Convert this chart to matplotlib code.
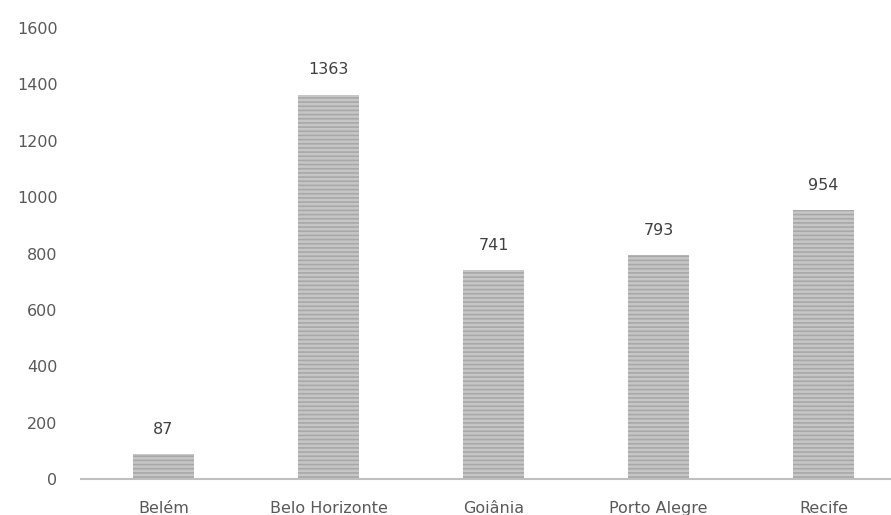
import matplotlib.pyplot as plt
import numpy as np

cities = ['Belém', 'Belo Horizonte', 'Goiânia', 'Porto Alegre', 'Recife']
counts = [87, 1363, 741, 793, 954]
yticks = [0, 200, 400, 600, 800, 1000, 1200, 1400, 1600]

plt.rcParams['font.family'] = ['DejaVu Sans']
plt.rcParams['hatch.linewidth'] = 1.2
plt.rcParams['hatch.color'] = '#a8a8a8'

fig = plt.figure(figsize=(8.91, 5.15), dpi=100)
# eixo recortado à direita como na imagem original
ax = fig.add_axes([81 / 891, 36 / 515, 825 / 891, 451 / 515])

x = np.arange(len(cities))
ax.bar(x, counts, width=0.375, color='#c6c6c6', edgecolor='#a8a8a8',
       linewidth=0, hatch='----', zorder=2)

for xi, v in zip(x, counts):
    ax.annotate(str(v), (xi, v), xytext=(0, 12.5), textcoords='offset points',
                ha='center', va='bottom', fontsize=11.5, color='#404040')

ax.set_xlim(-0.5, 4.5)
ax.set_ylim(0, 1600)
ax.set_xticks(x)
ax.set_xticklabels(cities, fontsize=11.5, color='#595959')
ax.set_yticks(yticks)
ax.set_yticklabels([str(t) for t in yticks], fontsize=11.5, color='#595959')
ax.tick_params(axis='both', length=0)
ax.tick_params(axis='x', pad=16)
ax.tick_params(axis='y', pad=17)

for s in ['top', 'right', 'left']:
    ax.spines[s].set_visible(False)
ax.spines['bottom'].set_color('#bfbfbf')
ax.spines['bottom'].set_linewidth(1.5)
ax.spines['bottom'].set_zorder(3)

fig.savefig('out.png', dpi=100, facecolor='white')
